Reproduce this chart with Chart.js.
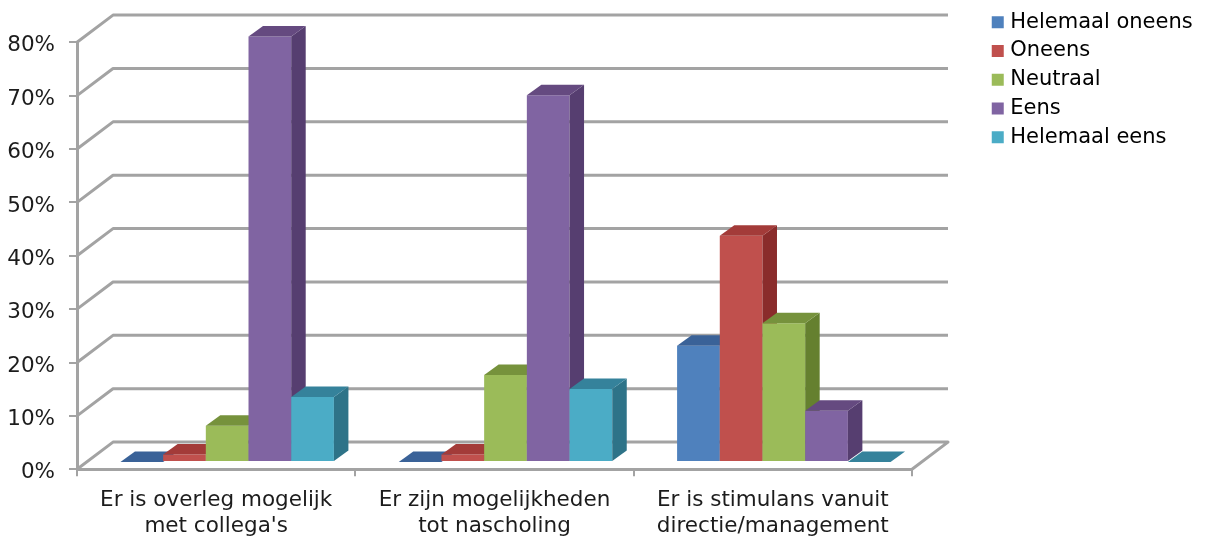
<!DOCTYPE html>
<html lang="nl">
<head>
    <meta charset="UTF-8">
    <title>Overleg, nascholing en stimulans</title>
    <script src="https://cdn.jsdelivr.net/npm/chart.js"></script>
    <style>
        body { margin: 0; background: #fff; }
        canvas { display: block; }
    </style>
</head>
<body>
    <canvas id="divBarChart" width="1210" height="536"></canvas>

    <script>
        // ------------------------------------------------
        // Data
        const categories = [
            ['Er is overleg mogelijk', "met collega's"],
            ['Er zijn mogelijkheden', 'tot nascholing'],
            ['Er is stimulans vanuit', 'directie/management']
        ];
        const seriesNames = ['Helemaal oneens', 'Oneens', 'Neutraal', 'Eens', 'Helemaal eens'];
        const helemaalOneens = [0, 0, 21.8];
        const oneens = [1.4, 1.4, 42.4];
        const neutraal = [6.8, 16.3, 26];
        const eens = [79.7, 68.7, 9.6];
        const helemaalEens = [12.2, 13.7, 0];
        const seriesValues = [helemaalOneens, oneens, neutraal, eens, helemaalEens];

        // ------------------------------------------------
        // Colours: front, top and side of each bar
        const frontColors = ['#4f81bd', '#c0504d', '#9bbb59', '#8064a2', '#4bacc6'];
        const topColors = ['#3a6298', '#a33b39', '#76923c', '#654a80', '#35829b'];
        const sideColors = ['#2f5080', '#8a2c2b', '#65802f', '#563e70', '#2e7388'];
        const gridColor = '#a3a3a3';
        const textColor = '#1c1c1c';

        // Perspective offsets of the back wall and of the bars
        const wallDepth = { x: 36, y: -27.2 };
        const barShift = { x: 11, y: -7.3 };
        const barDepth = { x: 14.5, y: -10.5 };

        function fillFace(ctx, color, points) {
            ctx.fillStyle = color;
            ctx.beginPath();
            points.forEach((p, i) => i ? ctx.lineTo(p[0], p[1]) : ctx.moveTo(p[0], p[1]));
            ctx.closePath();
            ctx.fill();
        }

        function drawWalls(chart) {
            const ctx = chart.ctx;
            const { left, right } = chart.chartArea;
            const yScale = chart.scales.y;
            ctx.save();
            ctx.strokeStyle = gridColor;
            ctx.lineWidth = 3;
            ctx.lineJoin = 'round';
            yScale.ticks.forEach(tick => {
                const y = yScale.getPixelForValue(tick.value);
                ctx.beginPath();
                ctx.moveTo(left, y);
                ctx.lineTo(left + wallDepth.x, y + wallDepth.y);
                ctx.lineTo(right + wallDepth.x, y + wallDepth.y);
                if (tick.value === 0) ctx.lineTo(right, y);
                ctx.stroke();
            });
            ctx.restore();
        }

        // Bars are drawn left to right, so that each one covers the side of its neighbour
        function drawBars(chart) {
            const ctx = chart.ctx;
            chart.data.datasets.forEach((dataset, index) => {
                const meta = chart.getDatasetMeta(index);
                ctx.save();
                ctx.translate(barShift.x, barShift.y);
                meta.controller.draw();
                meta.data.forEach(bar => {
                    const l = bar.x - bar.width / 2;
                    const r = bar.x + bar.width / 2;
                    fillFace(ctx, sideColors[index], [
                        [r, bar.y], [r + barDepth.x, bar.y + barDepth.y],
                        [r + barDepth.x, bar.base + barDepth.y], [r, bar.base]
                    ]);
                    fillFace(ctx, topColors[index], [
                        [l, bar.y], [l + barDepth.x, bar.y + barDepth.y],
                        [r + barDepth.x, bar.y + barDepth.y], [r, bar.y]
                    ]);
                });
                ctx.restore();
            });
        }

        const perspective = {
            id: 'perspective',
            afterLayout(chart) {
                // legend sits in the free column to the right of the plot
                const legend = chart.legend;
                const w = legend.width, h = legend.height;
                Object.assign(legend, { left: 988, top: 4, right: 988 + w, bottom: 4 + h });
            },
            beforeDatasetsDraw(chart) {
                drawWalls(chart);
                drawBars(chart);
                return false;
            }
        };

        new Chart(document.getElementById('divBarChart'), {
            type: 'bar',
            data: {
                labels: categories,
                datasets: seriesNames.map((name, i) => ({
                    label: name,
                    data: seriesValues[i],
                    backgroundColor: frontColors[i],
                    borderWidth: 0,
                    categoryPercentage: 0.767,
                    barPercentage: 1
                }))
            },
            plugins: [perspective],
            options: {
                responsive: false,
                animation: false,
                events: [],
                layout: { padding: { top: 42.3, right: 298, left: 0, bottom: 0 } },
                scales: {
                    x: {
                        afterFit: scale => { scale.height = 66.7; },
                        border: { color: gridColor, width: 3 },
                        grid: { drawOnChartArea: false, color: gridColor, lineWidth: 2, tickLength: 7 },
                        ticks: {
                            color: textColor,
                            font: { family: 'DejaVu Sans', size: 21.5, lineHeight: 1.22 },
                            maxRotation: 0,
                            padding: 11
                        }
                    },
                    y: {
                        min: 0,
                        max: 80,
                        afterFit: scale => { scale.width = 77; },
                        border: { color: gridColor, width: 3 },
                        grid: { drawOnChartArea: false, color: gridColor, lineWidth: 2, tickLength: 8 },
                        ticks: {
                            stepSize: 10,
                            color: textColor,
                            font: { family: 'DejaVu Sans', size: 21.5 },
                            padding: 14,
                            labelOffset: 3.5,
                            callback: value => value + '%'
                        }
                    }
                },
                plugins: {
                    tooltip: { enabled: false },
                    legend: {
                        position: 'chartArea',
                        align: 'start',
                        labels: {
                            color: textColor,
                            font: { family: 'DejaVu Sans', size: 21 },
                            boxWidth: 4,
                            boxHeight: 4,
                            padding: 7.75,
                            // the thick outline makes up most of the visible swatch
                            generateLabels: chart => chart.data.datasets.map((dataset, i) => ({
                                text: dataset.label,
                                fillStyle: frontColors[i],
                                strokeStyle: frontColors[i],
                                lineWidth: 8,
                                datasetIndex: i
                            }))
                        }
                    }
                }
            }
        });
    </script>
</body>
</html>
